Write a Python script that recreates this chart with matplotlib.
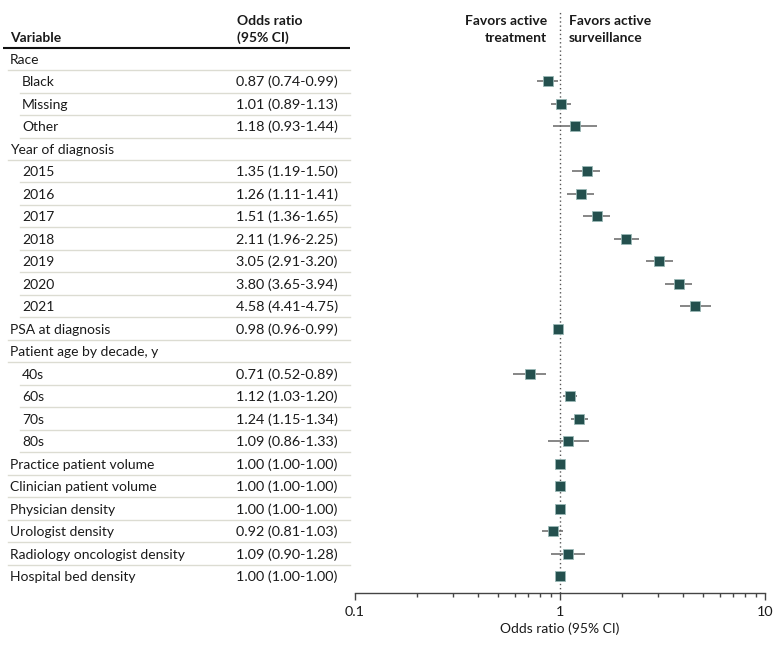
import matplotlib
matplotlib.use("Agg")
import matplotlib.pyplot as plt
from matplotlib.ticker import LogLocator, FixedLocator, NullFormatter
import numpy as np

plt.rcParams['font.family'] = ['Lato', 'DejaVu Sans']

labels = ["Race", "Black", "Missing", "Other", "Year of diagnosis",
          "2015", "2016", "2017", "2018", "2019", "2020", "2021",
          "PSA at diagnosis", "Patient age by decade, y", "40s", "60s", "70s", "80s",
          "Practice patient volume", "Clinician patient volume", "Physician density",
          "Urologist density", "Radiology oncologist density", "Hospital bed density"]
indent = [0, 1, 1, 1, 0, 1, 1, 1, 1, 1, 1, 1, 0, 0, 1, 1, 1, 1, 0, 0, 0, 0, 0, 0]
or_text = ["", "0.87 (0.74-0.99)", "1.01 (0.89-1.13)", "1.18 (0.93-1.44)", "",
           "1.35 (1.19-1.50)", "1.26 (1.11-1.41)", "1.51 (1.36-1.65)", "2.11 (1.96-2.25)",
           "3.05 (2.91-3.20)", "3.80 (3.65-3.94)", "4.58 (4.41-4.75)",
           "0.98 (0.96-0.99)", "", "0.71 (0.52-0.89)", "1.12 (1.03-1.20)",
           "1.24 (1.15-1.34)", "1.09 (0.86-1.33)", "1.00 (1.00-1.00)", "1.00 (1.00-1.00)",
           "1.00 (1.00-1.00)", "0.92 (0.81-1.03)", "1.09 (0.90-1.28)", "1.00 (1.00-1.00)"]
or_val = [np.nan, 0.87, 1.01, 1.18, np.nan, 1.35, 1.26, 1.51, 2.11, 3.05, 3.80, 4.58,
          0.98, np.nan, 0.71, 1.12, 1.24, 1.09, 1.00, 1.00, 1.00, 0.92, 1.09, 1.00]
ci_lo = [np.nan, 0.77, 0.90, 0.92, np.nan, 1.15, 1.08, 1.30, 1.83, 2.64, 3.27, 3.86,
         0.96, np.nan, 0.59, 1.03, 1.13, 0.87, 1.00, 1.00, 1.00, 0.82, 0.90, 1.00]
ci_hi = [np.nan, 0.98, 1.13, 1.52, np.nan, 1.57, 1.47, 1.76, 2.44, 3.54, 4.42, 5.45,
         0.99, np.nan, 0.85, 1.21, 1.37, 1.39, 1.00, 1.00, 1.00, 1.03, 1.32, 1.00]
xticks = [0.1, 1, 10]
xtick_labels = ["0.1", "1", "10"]

W, H = 780, 647
fig = plt.figure(figsize=(W / 100, H / 100), dpi=100)

# layout in pixels
row0_px = 58.8
step_px = 22.49
top_px = 47.7
axis_px = 593.3
n = len(labels)
y_top = (top_px - row0_px) / step_px
y_bot = (axis_px - row0_px) / step_px
bottom = 1 - axis_px / H
height = (axis_px - top_px) / H

ax = fig.add_axes([355 / W, bottom, (765 - 355) / W, height])
tab = fig.add_axes([0, bottom, 355 / W, height], sharey=ax)
tab.set_xlim(0, 355)
tab.axis('off')
ax.set_ylim(y_bot, y_top)

def row_of_px(py):
    return (py - row0_px) / step_px

base_off = 5.2 / step_px
rows = np.arange(n)
col_text = '#1a1a1a'
fs = 10
fs_num = 10.4

# header
tab.text(10, row_of_px(41.7), "Variable", fontsize=fs, fontweight='bold', va='baseline', ha='left', color=col_text)
tab.text(237, row_of_px(25), "Odds ratio", fontsize=fs, fontweight='bold', va='baseline', ha='left', color=col_text)
tab.text(237, row_of_px(41.7), "(95% CI)", fontsize=fs, fontweight='bold', va='baseline', ha='left', color=col_text)
tab.plot([3, 350], [y_top, y_top], color='#111111', lw=1.5, clip_on=False, solid_capstyle='butt')

for i, lab in enumerate(labels):
    x0 = 22 if indent[i] else 10
    tab.text(x0, rows[i] + base_off, lab, fontsize=fs, va='baseline', ha='left', color=col_text)
    if or_text[i]:
        tab.text(236, rows[i] + base_off, or_text[i], fontsize=fs_num, va='baseline', ha='left', color=col_text)
    if i < n - 1:
        tab.plot([x0 - 2, 350], [rows[i] + 0.5, rows[i] + 0.5], color='#dcdcd2', lw=1, clip_on=False)

# forest plot
ax.set_xscale('log')
ax.set_xlim(0.1, 10)
ax.plot([1, 1], [y_bot, row_of_px(12)], ls=(0, (1, 2)), color='#555555', lw=1, clip_on=False, zorder=1)

vals = np.array(or_val)
lo = np.array(ci_lo)
hi = np.array(ci_hi)
mask = ~np.isnan(vals)
ax.hlines(rows[mask], lo[mask], hi[mask], color='#666666', lw=1.1, zorder=2)
ax.plot(vals[mask], rows[mask], 's', color='#24504e', markersize=7,
        markeredgecolor='#9ab8b6', markeredgewidth=0.6, zorder=3, linestyle='none')

for s in ['top', 'left', 'right']:
    ax.spines[s].set_visible(False)
ax.spines['bottom'].set_color('#444444')
ax.spines['bottom'].set_linewidth(1)
ax.set_yticks([])
ax.xaxis.set_major_locator(FixedLocator(xticks))
ax.set_xticklabels(xtick_labels)
ax.xaxis.set_minor_locator(LogLocator(base=10, subs=np.arange(2, 10)))
ax.xaxis.set_minor_formatter(NullFormatter())
ax.tick_params(axis='x', which='major', length=5, width=1, color='#444444', labelsize=fs_num, pad=4, labelcolor=col_text)
ax.tick_params(axis='x', which='minor', length=3, width=1, color='#444444')
ax.set_xlabel("Odds ratio (95% CI)", fontsize=fs, color=col_text, labelpad=3)

# favors labels
ax.annotate("Favors active", xy=(1, row_of_px(25)), xytext=(-13, 0),
            textcoords='offset pixels', ha='right', va='baseline', fontsize=fs,
            fontweight='bold', color=col_text, annotation_clip=False)
ax.annotate("treatment", xy=(1, row_of_px(41.7)), xytext=(-13, 0),
            textcoords='offset pixels', ha='right', va='baseline', fontsize=fs,
            fontweight='bold', color=col_text, annotation_clip=False)
ax.annotate("Favors active", xy=(1, row_of_px(25)), xytext=(9, 0),
            textcoords='offset pixels', ha='left', va='baseline', fontsize=fs,
            fontweight='bold', color=col_text, annotation_clip=False)
ax.annotate("surveillance", xy=(1, row_of_px(41.7)), xytext=(9, 0),
            textcoords='offset pixels', ha='left', va='baseline', fontsize=fs,
            fontweight='bold', color=col_text, annotation_clip=False)

fig.savefig("out.png", dpi=100)
